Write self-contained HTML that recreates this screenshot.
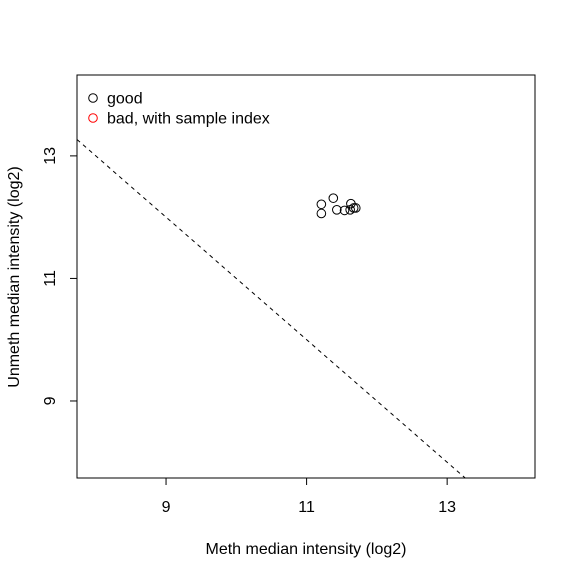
<!DOCTYPE html>
<html><head><meta charset="utf-8"><style>body{margin:0;background:#fff}svg{display:block;font-family:"Liberation Sans",Arial,sans-serif}</style></head>
<body>
<svg id="chart" width="576" height="576" viewBox="0 0 576 576" xmlns="http://www.w3.org/2000/svg">
<rect width="576" height="576" fill="#fff"/>
<g id="plot"></g>
</svg>
<script>
const xVals=[11.21,11.21,11.38,11.43,11.54,11.63,11.62,11.67,11.70];
const yVals=[12.21,12.06,12.31,12.12,12.11,12.22,12.12,12.15,12.15];
const xTicks=[9,11,13];
const yTicks=[9,11,13];
const lineIntercept=[21];
const lineSlope=[-1];
const X0=77,X1=535,Y0=478,Y1=75;
const xmin=7.733,xmax=14.25,ymin=7.743,ymax=14.32;
const sx=v=>X0+(v-xmin)/(xmax-xmin)*(X1-X0);
const sy=v=>Y0-(v-ymin)/(ymax-ymin)*(Y0-Y1);
const NS="http://www.w3.org/2000/svg";
const g=document.getElementById('plot');
function mk(t,a,p){const e=document.createElementNS(NS,t);for(const k in a)e.setAttribute(k,a[k]);(p||g).appendChild(e);return e;}
const box=mk('rect',{x:X0,y:Y1,width:X1-X0,height:Y0-Y1,fill:'none',stroke:'#000','stroke-width':1});


const cp=mk('clipPath',{id:'cp'});mk('rect',{x:X0,y:Y1,width:X1-X0,height:Y0-Y1},cp);
const a=lineIntercept[0],b=lineSlope[0];
const ln=mk('line',{x1:sx(xmin),y1:sy(a+b*xmin),x2:sx(xmax),y2:sy(a+b*xmax),stroke:'#000','stroke-dasharray':'4,4','clip-path':'url(#cp)'});


xVals.forEach((v,i)=>{const c=mk('circle',{cx:sx(v),cy:sy(yVals[i]),r:4.3,fill:'none',stroke:'#000','stroke-width':1});

});
mk('line',{x1:sx(xTicks[0]),y1:Y0,x2:sx(xTicks[xTicks.length-1]),y2:Y0,stroke:'#000'});
xTicks.forEach(t=>{mk('line',{x1:sx(t),y1:Y0,x2:sx(t),y2:Y0+7,stroke:'#000'});
const tx=mk('text',{x:sx(t),y:Y0+34,'text-anchor':'middle','font-size':16});tx.textContent=t;

});
mk('line',{x1:X0,y1:sy(yTicks[0]),x2:X0,y2:sy(yTicks[yTicks.length-1]),stroke:'#000'});
yTicks.forEach(t=>{mk('line',{x1:X0,y1:sy(t),x2:X0-7,y2:sy(t),stroke:'#000'});
const tx=mk('text',{x:X0-22,y:sy(t),'text-anchor':'middle','font-size':16,transform:`rotate(-90 ${X0-22} ${sy(t)})`});tx.textContent=t;

});
const xt=mk('text',{x:306,y:554,'text-anchor':'middle','font-size':16});xt.textContent='Meth median intensity (log2)';


const yt=mk('text',{x:19,y:277,'text-anchor':'middle','font-size':16,transform:'rotate(-90 19 277)'});yt.textContent='Unmeth median intensity (log2)';


[['good','#000',98],['bad, with sample index','#f00',118]].forEach(([l,c,y])=>{
mk('circle',{cx:93,cy:y,r:4.3,fill:'none',stroke:c});
const tx=mk('text',{x:107,y:y+5.5,'font-size':16});tx.textContent=l;

});
</script>
</body></html>
